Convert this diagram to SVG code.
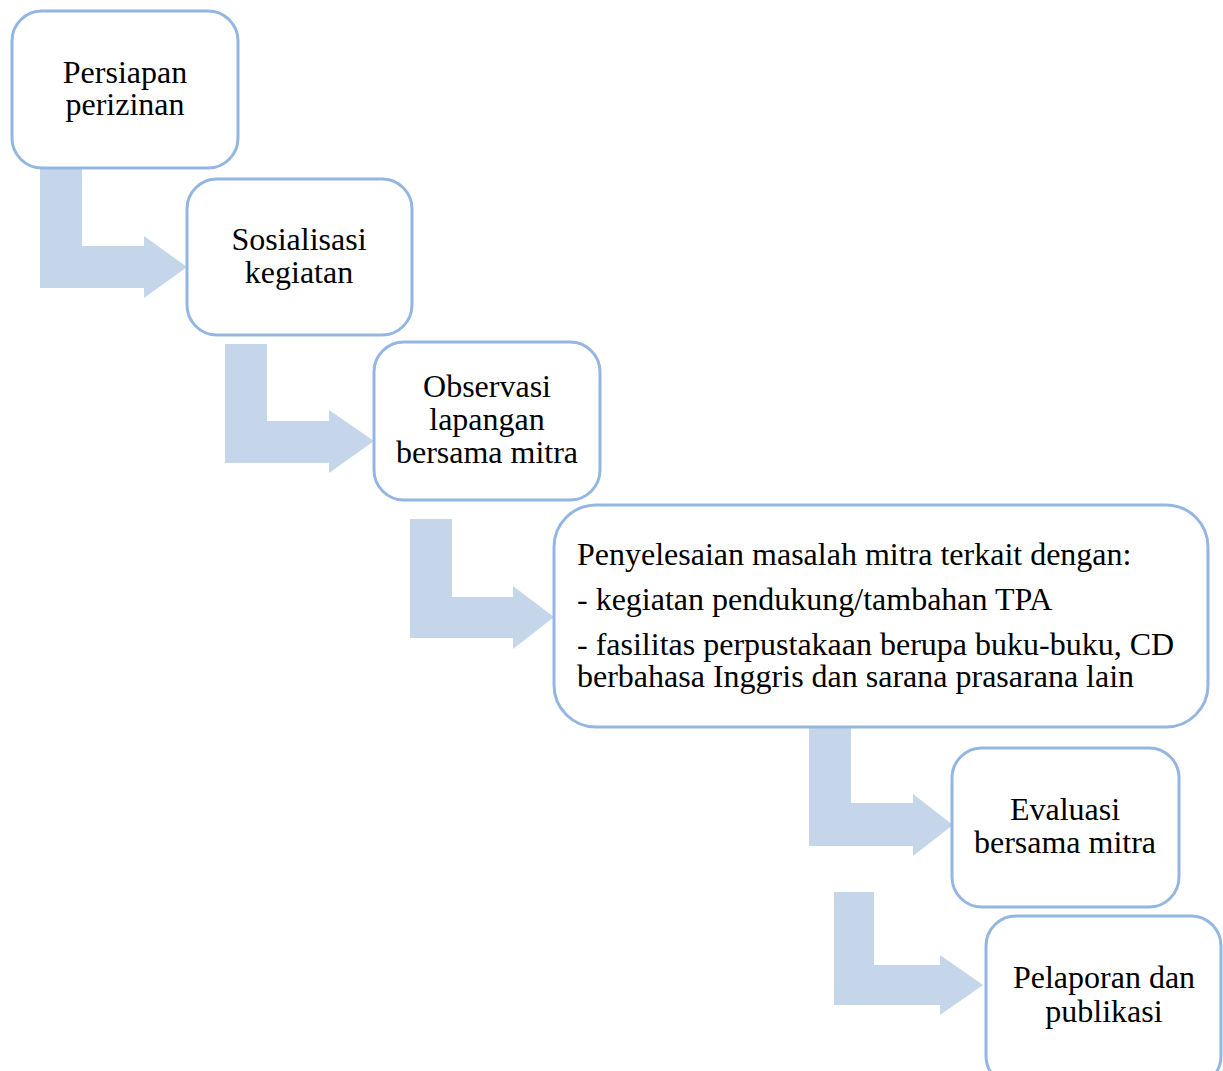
<svg xmlns="http://www.w3.org/2000/svg" width="1223" height="1071" viewBox="0 0 1223 1071">
<style>
.box{fill:#fff;stroke:#93b7e2;stroke-width:3}
.arr{fill:#c5d5ea}
text{font-family:'Liberation Serif','Times New Roman',serif;font-size:32px;fill:#000}
.c{text-anchor:middle}
</style>
<rect width="1223" height="1071" fill="#fff"/>
<g id="connectors">
<path class="arr" d="M40,168 H82 V246 H144 V236 L187,267 L144,298 V288 H40 Z"/>
<path class="arr" d="M225,344 H267 V421 H329 V410 L374,441 L329,473 V463 H225 Z"/>
<path class="arr" d="M410,519 H452 V597 H513 V586 L554,617 L513,649 V638 H410 Z"/>
<path class="arr" d="M809,727 H851 V803 H913 V794 L953,825 L913,856 V846 H809 Z"/>
<path class="arr" d="M834,892 H874 V965 H940 V955 L983,985 L940,1015 V1005 H834 Z"/>
</g>
<g id="n1"><rect class="box" x="12" y="11" width="226" height="157" rx="30"/>
<text class="c" x="125" y="83">Persiapan</text><text class="c" x="125" y="115">perizinan</text></g>
<g id="n2"><rect class="box" x="187" y="179" width="225" height="156" rx="30"/>
<text class="c" x="299" y="250">Sosialisasi</text><text class="c" x="299" y="283">kegiatan</text></g>
<g id="n3"><rect class="box" x="374" y="342" width="226" height="158" rx="30"/>
<text class="c" x="487" y="397">Observasi</text><text class="c" x="487" y="430">lapangan</text><text class="c" x="487" y="463">bersama mitra</text></g>
<g id="n4"><rect class="box" x="554" y="505" width="654" height="222" rx="42"/>
<text x="577" y="565">Penyelesaian masalah mitra terkait dengan:</text>
<text x="577" y="610">- kegiatan pendukung/tambahan TPA</text>
<text x="577" y="655">- fasilitas perpustakaan berupa buku-buku, CD</text>
<text x="577" y="687">berbahasa Inggris dan sarana prasarana lain</text></g>
<g id="n5"><rect class="box" x="952" y="748" width="227" height="159" rx="30"/>
<text class="c" x="1065" y="820">Evaluasi</text><text class="c" x="1065" y="853">bersama mitra</text></g>
<g id="n6"><rect class="box" x="986" y="916" width="235" height="170" rx="30"/>
<text class="c" x="1104" y="988">Pelaporan dan</text><text class="c" x="1104" y="1022">publikasi</text></g>
</svg>
